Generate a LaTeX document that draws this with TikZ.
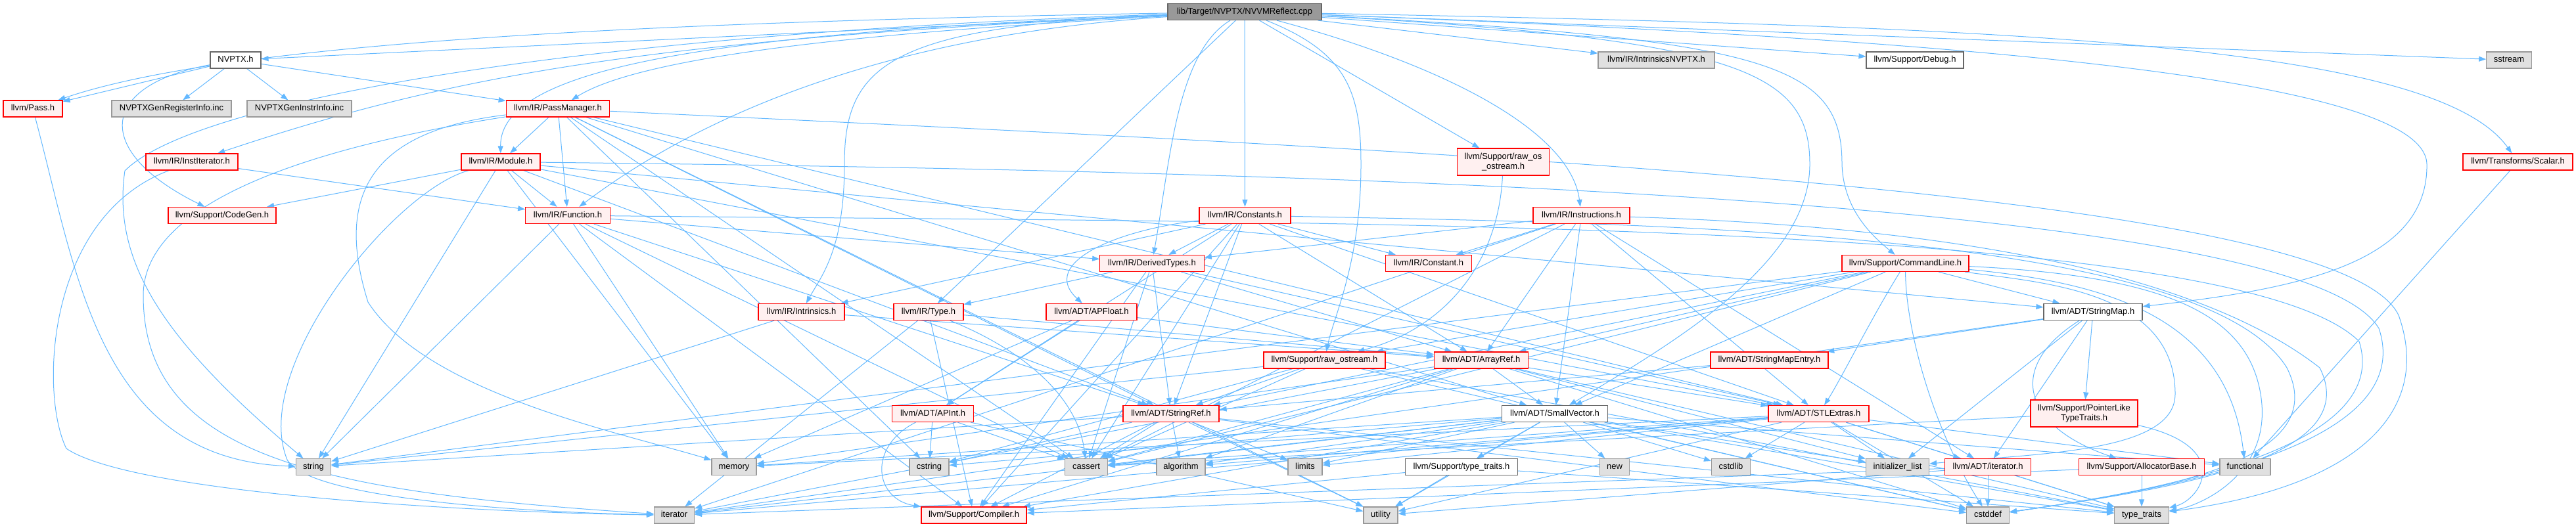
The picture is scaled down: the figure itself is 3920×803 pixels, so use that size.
\documentclass[tikz,border=0pt]{standalone}
\usepackage{fontspec}
\setmainfont{Liberation Sans}
\usetikzlibrary{arrows.meta}
\definecolor{edgec}{HTML}{63B8FF}
\definecolor{redfill}{HTML}{FFF0F0}
\definecolor{grayfill}{HTML}{E0E0E0}
\definecolor{graybd}{HTML}{999999}
\definecolor{whitebd}{HTML}{666666}
\definecolor{rootfill}{HTML}{999999}
\pgfdeclarelayer{bg}
\pgfsetlayers{bg,main}
\begin{document}
\begin{tikzpicture}[x=1pt,y=-1pt,font=\fontsize{13}{15}\selectfont,
 nb/.style={draw,line width=1.2pt,minimum height=25pt,inner sep=0pt,text height=9.5pt,text depth=2.6pt},
 rn/.style={nb,draw=red,fill=redfill},
 gn/.style={nb,draw=graybd,fill=grayfill},
 wn/.style={nb,draw=whitebd,fill=white},
 rootn/.style={nb,draw=whitebd,fill=rootfill},
 twol/.style={align=center,minimum height=41pt,text height=,text depth=},
 e/.style={draw=edgec,line width=1pt,-{Triangle[length=11pt,width=8pt]}}]
\useasboundingbox (0,0) rectangle (3920,803);
% nodes
\node[rootn,minimum width=234pt] (R) at (1894,18) {lib/Target/NVPTX/NVVMReflect.cpp};
\node[wn,minimum width=77pt] (nvptx) at (358.5,91.5) {NVPTX.h};
\node[rn,minimum width=90pt] (pass) at (50,165.5) {llvm/Pass.h};
\node[gn,minimum width=182pt] (genreg) at (261,165.5) {NVPTXGenRegisterInfo.inc};
\node[gn,minimum width=159pt] (geninstr) at (455.5,165.5) {NVPTXGenInstrInfo.inc};
\node[rn,minimum width=140pt] (instit) at (292,246.5) {llvm/IR/InstIterator.h};
\node[rn,minimum width=164pt] (codegen) at (338,328) {llvm/Support/CodeGen.h};
\node[rn,minimum width=157.5pt] (pm) at (849,165.5) {llvm/IR/PassManager.h};
\node[rn,minimum width=120pt] (module) at (762,246.5) {llvm/IR/Module.h};
\node[rn,minimum width=128.5pt] (func) at (864,328) {llvm/IR/Function.h};
\node[rn,minimum width=139pt] (consts) at (1894.5,328) {llvm/IR/Constants.h};
\node[rn,minimum width=158.5pt] (derived) at (1753,401) {llvm/IR/DerivedTypes.h};
\node[gn,minimum width=177pt] (intrnv) at (2520.5,91.5) {llvm/IR/IntrinsicsNVPTX.h};
\node[rn,twol,minimum width=140pt] (rawos) at (2287.5,246.5) {llvm/Support/raw\_os\\\_ostream.h};
\node[rn,minimum width=147pt] (instr) at (2406.5,328) {llvm/IR/Instructions.h};
\node[rn,minimum width=131.5pt] (constant) at (2174,401) {llvm/IR/Constant.h};
\node[wn,minimum width=148pt] (debug) at (2914,91.5) {llvm/Support/Debug.h};
\node[rn,minimum width=193pt] (cmdline) at (2899.5,401) {llvm/Support/CommandLine.h};
\node[gn,minimum width=68.5pt] (sstream) at (3818,91.5) {sstream};
\node[rn,minimum width=167pt] (scalar) at (3831.5,246.5) {llvm/Transforms/Scalar.h};
\node[gn,minimum width=53pt] (string) at (477,711) {string};
\node[rn,minimum width=131pt] (intrin) at (1219.5,475) {llvm/IR/Intrinsics.h};
\node[gn,minimum width=68pt] (memory) at (1117,711) {memory};
\node[gn,minimum width=61pt] (iter) at (1026,784.5) {iterator};
\node[rn,minimum width=106pt] (type) at (1413,475) {llvm/IR/Type.h};
\node[rn,minimum width=138pt] (apfloat) at (1661,475) {llvm/ADT/APFloat.h};
\node[rn,minimum width=124pt] (apint) at (1419.5,630) {llvm/ADT/APInt.h};
\node[rn,minimum width=146pt] (sref) at (1782,630) {llvm/ADT/StringRef.h};
\node[gn,minimum width=60pt] (cstring) at (1414,711) {cstring};
\node[gn,minimum width=64.5pt] (cassert) at (1653,711) {cassert};
\node[gn,minimum width=74pt] (algo) at (1797,711) {algorithm};
\node[rn,minimum width=160pt] (compiler) at (1482,784.5) {llvm/Support/Compiler.h};
\node[rn,minimum width=185pt] (rawo) at (2015.5,548.5) {llvm/Support/raw\_ostream.h};
\node[rn,minimum width=143pt] (aref) at (2254,548.5) {llvm/ADT/ArrayRef.h};
\node[wn,minimum width=161pt] (svec) at (2366,630) {llvm/ADT/SmallVector.h};
\node[gn,minimum width=52pt] (limits) at (1986,711) {limits};
\node[wn,minimum width=170.5pt] (ttrh) at (2224,711) {llvm/Support/type\_traits.h};
\node[gn,minimum width=45.5pt] (new) at (2457,711) {new};
\node[gn,minimum width=52pt] (utility) at (2101,784.5) {utility};
\node[wn,minimum width=150pt] (smap) at (3185,475) {llvm/ADT/StringMap.h};
\node[rn,minimum width=179pt] (smapentry) at (2692.5,548.5) {llvm/ADT/StringMapEntry.h};
\node[rn,minimum width=153pt] (stlx) at (2767.5,630) {llvm/ADT/STLExtras.h};
\node[rn,twol,minimum width=163pt] (plike) at (3171.5,629.5) {llvm/Support/PointerLike\\TypeTraits.h};
\node[gn,minimum width=59pt] (cstdlib) at (2634,711) {cstdlib};
\node[gn,minimum width=96pt] (initl) at (2887.5,711) {initializer\_list};
\node[rn,minimum width=131pt] (iterh) at (3025,711) {llvm/ADT/iterator.h};
\node[rn,minimum width=191pt] (alloc) at (3259,711) {llvm/Support/AllocatorBase.h};
\node[gn,minimum width=64.5pt] (cstddef) at (3025,784.5) {cstddef};
\node[gn,minimum width=77pt] (functional) at (3416.5,711) {functional};
\node[gn,minimum width=82.5pt] (tt) at (3259,784.5) {type\_traits};
\begin{pgfonlayer}{bg}
% root
\draw[e] (R) -- (nvptx);
\draw[e] (R) .. controls (900,35) and (330,70) .. (pass);
\draw[e] (R) .. controls (1500,40) and (1000,70) .. (pm);
\draw[e] (R) .. controls (1100,50) and (760,100) .. (module);
\draw[e] (R) .. controls (1400,50) and (1100,150) .. (func);
\draw[e] (R) .. controls (1000,60) and (700,110) .. (instit);
\draw[e] (R) -- (consts);
\draw[e] (R) .. controls (1790,80) and (1780,250) .. (derived);
\draw[e] (R) -- (type);
\draw[e] (R) .. controls (1350,40) and (1285,100) .. (1285,250) .. controls (1285,380) and (1250,420) .. (intrin);
\draw[e] (R) .. controls (2200,100) and (2390,200) .. (instr);
\draw[e] (R) -- (intrnv);
\draw[e] (R) -- (rawos);
\draw[e] (R) .. controls (2050,80) and (2071,140) .. (2071,250) .. controls (2071,400) and (2030,480) .. (rawo);
\draw[e] (R) .. controls (2700,60) and (2803,100) .. (2803,250) .. controls (2805,320) and (2850,360) .. (cmdline);
\draw[e] (R) -- (debug);
\draw[e] (R) -- (sstream);
\draw[e] (R) .. controls (3000,40) and (3700,60) .. (scalar);
\draw[e] (R) .. controls (2650,60) and (2754,110) .. (2754,250) .. controls (2754,400) and (2550,520) .. (svec);
\draw[e] (R) .. controls (3000,60) and (3690,120) .. (3693,250) .. controls (3695,400) and (3500,440) .. (smap);
\draw[e] (R) .. controls (900,50) and (300,150) .. (190,260) .. controls (170,400) and (250,520) .. (string);
% NVPTX.h
\draw[e] (nvptx) -- (pass);
\draw[e] (nvptx) -- (genreg);
\draw[e] (nvptx) -- (geninstr);
\draw[e] (nvptx) .. controls (150,130) and (140,230) .. (codegen);
\draw[e] (nvptx) -- (pm);
% Pass.h
\draw[e] (pass) .. controls (118,420) and (150,700) .. (string);
% InstIterator
\draw[e] (instit) -- (func);
\draw[e] (instit) .. controls (70,330) and (60,600) .. (101,683) .. controls (200,750) and (700,780) .. (iter);
% PassManager
\draw[e] (pm) -- (module);
\draw[e] (pm) -- (func);
\draw[e] (pm) .. controls (560,200) and (510,300) .. (560,460) .. controls (650,600) and (950,660) .. (memory);
\draw[e] (pm) .. controls (500,220) and (218,300) .. (218,450) .. controls (218,700) and (500,750) .. (iter);
\draw[e] (pm) -- (stlx);
\draw[e] (pm) -- (svec);
\draw[e] (pm) -- (sref);
\draw[e] (pm) -- (cassert);
\draw[e] (pm) -- (cstring);
\draw[e] (pm) -- (utility);
\draw[e] (pm) .. controls (2200,230) and (3560,290) .. (3650,480) .. controls (3700,620) and (3600,740) .. (tt);
% Module
\draw[e] (module) -- (func);
\draw[e] (module) -- (stlx);
\draw[e] (module) -- (smap);
\draw[e] (module) -- (sref);
\draw[e] (module) -- (codegen);
\draw[e] (module) .. controls (600,290) and (380,560) .. (437,700) .. controls (470,760) and (800,780) .. (iter);
\draw[e] (module) -- (memory);
\draw[e] (module) -- (string);
\draw[e] (module) .. controls (2000,260) and (3500,300) .. (3620,500) .. controls (3680,680) and (3300,745) .. (cstddef);
% Function
\draw[e] (func) -- (derived);
\draw[e] (func) -- (sref);
\draw[e] (func) -- (compiler);
\draw[e] (func) -- (cassert);
\draw[e] (func) -- (memory);
\draw[e] (func) -- (string);
\draw[e] (func) .. controls (2000,340) and (3400,330) .. (3590,520) .. controls (3640,680) and (3300,745) .. (cstddef);
% Constants
\draw[e] (consts) .. controls (1700,350) and (1580,400) .. (apfloat);
\draw[e] (consts) -- (apint);
\draw[e] (consts) -- (aref);
\draw[e] (consts) -- (stlx);
\draw[e] (consts) -- (sref);
\draw[e] (consts) -- (constant);
\draw[e] (consts) -- (derived);
\draw[e] (consts) -- (intrin);
\draw[e] (consts) -- (compiler);
\draw[e] (consts) -- (cassert);
\draw[e] (consts) .. controls (2500,340) and (3350,350) .. (3480,560) .. controls (3550,700) and (3300,745) .. (cstddef);
% DerivedTypes
\draw[e] (derived) -- (aref);
\draw[e] (derived) -- (stlx);
\draw[e] (derived) -- (sref);
\draw[e] (derived) -- (type);
\draw[e] (derived) -- (compiler);
\draw[e] (derived) -- (cassert);
% Type
\draw[e] (type) -- (aref);
\draw[e] (type) -- (compiler);
\draw[e] (type) .. controls (1550,530) and (1640,600) .. (cassert);
\draw[e] (type) -- (iter);
% APFloat
\draw[e] (apfloat) -- (apint);
\draw[e] (apfloat) -- (aref);
\draw[e] (apfloat) -- (memory);
% APInt
\draw[e] (apint) .. controls (1320,680) and (1330,760) .. (compiler);
\draw[e] (apint) -- (cassert);
\draw[e] (apint) -- (cstring);
\draw[e] (apint) -- (utility);
% StringRef
\draw[e] (sref) -- (compiler);
\draw[e] (sref) -- (algo);
\draw[e] (sref) -- (cassert);
\draw[e] (sref) -- (cstddef);
\draw[e] (sref) -- (cstring);
\draw[e] (sref) -- (limits);
\draw[e] (sref) -- (string);
\draw[e] (sref) -- (tt);
\draw[e] (sref) -- (utility);
% ArrayRef
\draw[e] (aref) -- (svec);
\draw[e] (aref) -- (stlx);
\draw[e] (aref) -- (compiler);
\draw[e] (aref) -- (algo);
\draw[e] (aref) -- (cassert);
\draw[e] (aref) -- (cstddef);
\draw[e] (aref) -- (initl);
\draw[e] (aref) -- (iter);
\draw[e] (aref) -- (memory);
\draw[e] (aref) -- (tt);
% SmallVector
\draw[e] (svec) -- (compiler);
\draw[e] (svec) -- (ttrh);
\draw[e] (svec) -- (algo);
\draw[e] (svec) -- (cassert);
\draw[e] (svec) -- (cstddef);
\draw[e] (svec) -- (cstdlib);
\draw[e] (svec) -- (cstring);
\draw[e] (svec) -- (functional);
\draw[e] (svec) -- (initl);
\draw[e] (svec) -- (iter);
\draw[e] (svec) -- (limits);
\draw[e] (svec) -- (memory);
\draw[e] (svec) -- (new);
\draw[e] (svec) -- (tt);
\draw[e] (svec) -- (utility);
% type_traits.h
\draw[e] (ttrh) -- (compiler);
\draw[e] (ttrh) -- (tt);
\draw[e] (ttrh) -- (utility);
% raw_ostream
\draw[e] (rawo) -- (sref);
\draw[e] (rawo) -- (cassert);
\draw[e] (rawo) -- (cstddef);
\draw[e] (rawo) -- (cstring);
\draw[e] (rawo) -- (string);
\draw[e] (rawo) -- (tt);
\draw[e] (rawos) .. controls (2280,400) and (2200,500) .. (rawo);
% Instructions
\draw[e] (instr) -- (aref);
\draw[e] (instr) -- (stlx);
\draw[e] (instr) -- (svec);
\draw[e] (instr) -- (iterh);
\draw[e] (instr) -- (constant);
\draw[e] (instr) -- (derived);
\draw[e] (instr) -- (cassert);
\draw[e] (instr) -- (iter);
\draw[e] (instr) .. controls (2800,340) and (3300,380) .. (3530,560) .. controls (3600,700) and (3300,745) .. (cstddef);
% CommandLine
\draw[e] (cmdline) -- (aref);
\draw[e] (cmdline) .. controls (2850,480) and (2800,580) .. (stlx);
\draw[e] (cmdline) -- (svec);
\draw[e] (cmdline) -- (smap);
\draw[e] (cmdline) -- (sref);
\draw[e] (cmdline) -- (rawo);
\draw[e] (cmdline) -- (cassert);
\draw[e] (cmdline) .. controls (2900,500) and (2940,650) .. (cstddef);
\draw[e] (cmdline) .. controls (3200,430) and (3390,480) .. (functional);
\draw[e] (cmdline) .. controls (3100,430) and (3310,440) .. (3310,600) .. controls (3310,690) and (3100,690) .. (initl);
\draw[e] (cmdline) -- (string);
\draw[e] (cmdline) .. controls (3300,420) and (3420,480) .. (3440,600) .. controls (3460,720) and (3350,770) .. (tt);
% StringMap
\draw[e] (smap) -- (smapentry);
\draw[e] (smap) -- (iterh);
\draw[e] (smap) .. controls (3050,560) and (3080,650) .. (alloc);
\draw[e] (smap) -- (plike);
\draw[e] (smap) -- (initl);
\draw[e] (smap) -- (iter);
\draw[e] (smapentry) -- (sref);
% STLExtras
\draw[e] (stlx) -- (iterh);
\draw[e] (stlx) -- (algo);
\draw[e] (stlx) -- (cassert);
\draw[e] (stlx) -- (cstddef);
\draw[e] (stlx) -- (cstdlib);
\draw[e] (stlx) -- (functional);
\draw[e] (stlx) -- (initl);
\draw[e] (stlx) -- (iter);
\draw[e] (stlx) -- (limits);
\draw[e] (stlx) -- (memory);
\draw[e] (stlx) -- (tt);
\draw[e] (stlx) -- (utility);
% iterator.h
\draw[e] (iterh) -- (cstddef);
\draw[e] (iterh) -- (iter);
\draw[e] (iterh) -- (tt);
\draw[e] (iterh) -- (utility);
% others
\draw[e] (plike) -- (cassert);
\draw[e] (plike) .. controls (3400,680) and (3350,760) .. (tt);
\draw[e] (alloc) -- (compiler);
\draw[e] (alloc) -- (tt);
\draw[e] (scalar) -- (functional);
\draw[e] (intrin) -- (aref);
\draw[e] (intrin) -- (string);
\end{pgfonlayer}
\end{tikzpicture}
\end{document}
